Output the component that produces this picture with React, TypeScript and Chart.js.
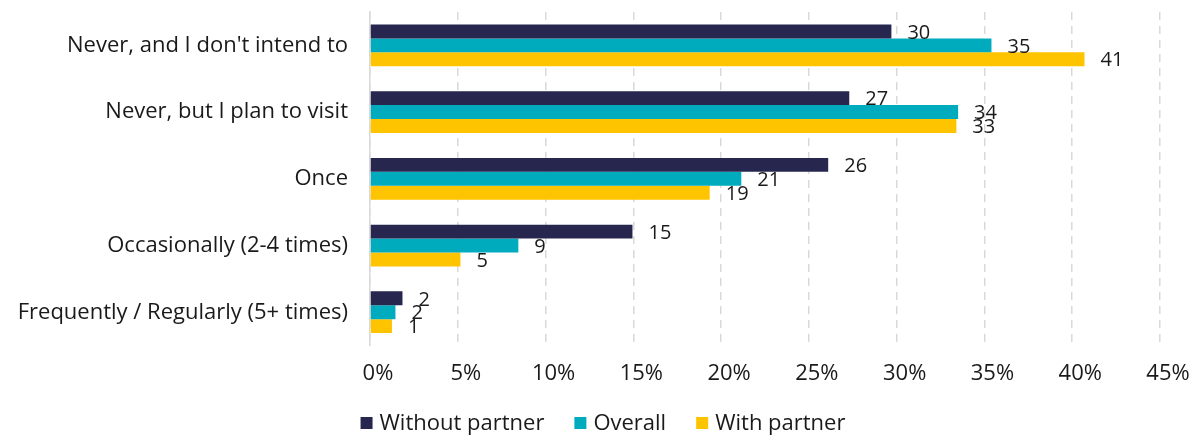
import React, { useEffect, useRef } from "react";
import { Chart, registerables } from "chart.js";

Chart.register(...registerables);

const categories = [
  "Never, and I don't intend to",
  "Never, but I plan to visit",
  "Once",
  "Occasionally (2-4 times)",
  "Frequently / Regularly (5+ times)",
];
const withoutPartner = [29.7, 27.3, 26.1, 14.95, 1.85];
const overall = [35.4, 33.5, 21.15, 8.45, 1.45];
const withPartner = [40.7, 33.4, 19.35, 5.15, 1.25];
const withoutPartnerLabels = ["30", "27", "26", "15", "2"];
const overallLabels = ["35", "34", "21", "9", "2"];
const withPartnerLabels = ["41", "33", "19", "5", "1"];
const xTicks = [0, 5, 10, 15, 20, 25, 30, 35, 40, 45];

const FONT = "'Open Sans', sans-serif";
const TEXT = "#1a1a1a";

const labelPlugin = {
  id: "barLabels",
  afterDatasetsDraw(chart: any) {
    const ctx = chart.ctx;
    ctx.save();
    ctx.font = `20px ${FONT}`;
    ctx.fillStyle = TEXT;
    ctx.textAlign = "left";
    ctx.textBaseline = "middle";
    chart.data.datasets.forEach((ds: any, di: number) => {
      const meta = chart.getDatasetMeta(di);
      meta.data.forEach((bar: any, i: number) => {
        ctx.fillText(ds.valueLabels[i], bar.x + 16, bar.y + 1.5);
      });
    });
    ctx.restore();
  },
};

// legend drawn below the x axis, centred on the canvas
const legendPlugin = {
  id: "bottomLegend",
  afterDraw(chart: any) {
    const ctx = chart.ctx;
    const box = 12;
    const gap = 7;
    const spacing = 30;
    const cy = chart.height - 12;
    ctx.save();
    ctx.font = `22px ${FONT}`;
    const items = chart.data.datasets.map((ds: any) => ({
      text: ds.label,
      color: ds.backgroundColor,
      w: ctx.measureText(ds.label).width,
    }));
    const total =
      items.reduce((s: number, it: any) => s + box + gap + it.w, 0) +
      spacing * (items.length - 1);
    let x = chart.width / 2 - total / 2 + 5;
    ctx.textBaseline = "middle";
    ctx.textAlign = "left";
    items.forEach((it: any) => {
      ctx.fillStyle = it.color;
      ctx.fillRect(x, cy - box / 2, box, box);
      ctx.fillStyle = TEXT;
      ctx.fillText(it.text, x + box + gap, cy + 1);
      x += box + gap + it.w + spacing;
    });
    ctx.restore();
  },
};

export default function App() {
  const ref = useRef<HTMLCanvasElement>(null);
  useEffect(() => {
    document.body.style.margin = "0";
    const chart = new Chart(ref.current!, {
      type: "bar",
      data: {
        labels: categories,
        datasets: [
          { label: "Without partner", data: withoutPartner, backgroundColor: "#26264F", valueLabels: withoutPartnerLabels } as any,
          { label: "Overall", data: overall, backgroundColor: "#00ABBD", valueLabels: overallLabels } as any,
          { label: "With partner", data: withPartner, backgroundColor: "#FFC400", valueLabels: withPartnerLabels } as any,
        ],
      },
      options: {
        indexAxis: "y",
        responsive: false,
        animation: false,
        layout: { padding: { top: 12, right: 36, left: 0, bottom: 33 } },
        datasets: { bar: { categoryPercentage: 0.626, barPercentage: 1 } },
        scales: {
          x: {
            min: 0,
            max: 45,
            afterBuildTicks: (scale: any) => {
              scale.ticks = xTicks.map((v) => ({ value: v }));
            },
            afterFit: (scale: any) => {
              scale.paddingLeft = 0;
              scale.paddingRight = 0;
            },
            grid: {
              color: "#D9D9D9",
              lineWidth: 1.5,
              drawTicks: false,
            },
            border: { display: false, dash: [8, 6] },
            ticks: {
              padding: 15,
              labelOffset: 8,
              color: TEXT,
              font: { family: FONT, size: 22 },
              callback: (v: any) => v + "%",
            },
          },
          y: {
            afterFit: (scale: any) => {
              scale.width = 370;
              scale.paddingTop = 0;
              scale.paddingBottom = 0;
            },
            grid: { display: false, drawTicks: false },
            border: { display: true, color: "#D9D9D9", width: 1.5 },
            ticks: {
              padding: 22,
              color: TEXT,
              font: { family: FONT, size: 22 },
            },
          },
        },
        plugins: {
          legend: { display: false },
          tooltip: { enabled: false },
        },
      },
      plugins: [labelPlugin, legendPlugin],
    });
    return () => chart.destroy();
  }, []);
  return (
    <div style={{ width: 1196, height: 435 }}>
      <canvas ref={ref} width={1196} height={435} />
    </div>
  );
}
